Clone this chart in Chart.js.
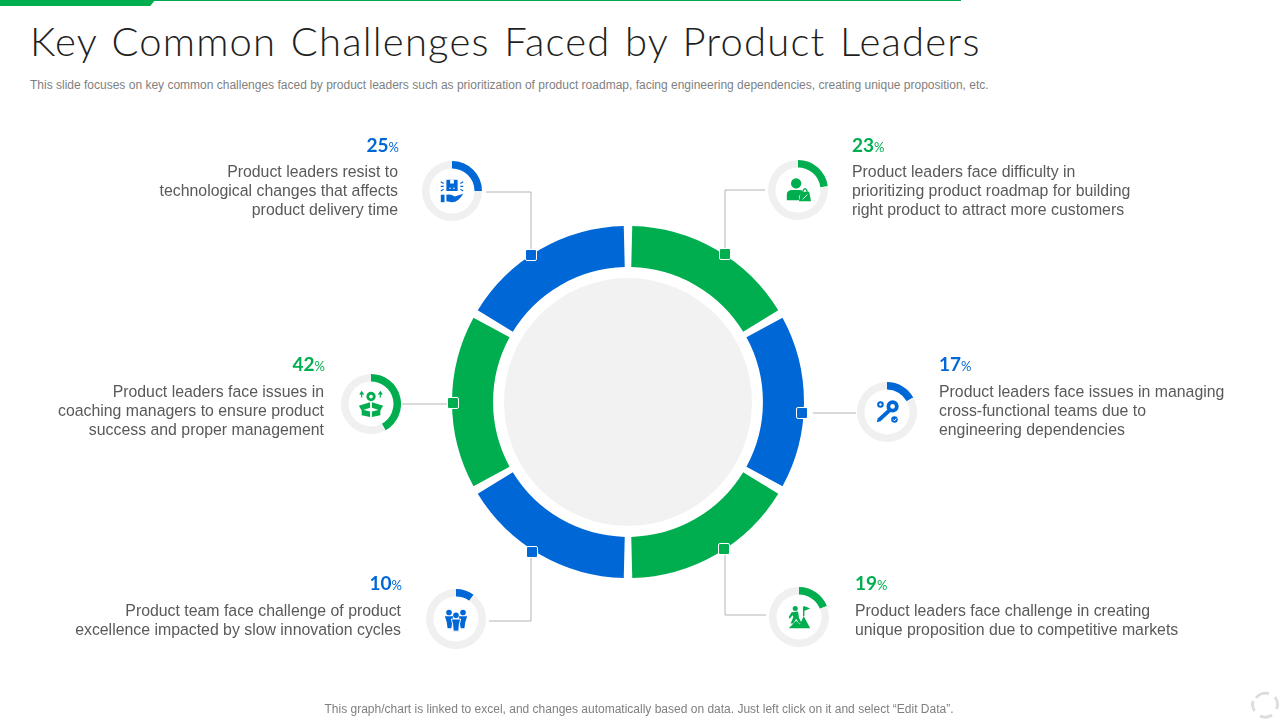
<!DOCTYPE html>
<html>
<head>
  <title>Key Common Challenges Faced by Product Leaders</title>
  <script src="https://cdn.jsdelivr.net/npm/chart.js"></script>
  <style>
    html, body { margin: 0; padding: 0; background: #fff; }
    body { position: relative; width: 1280px; height: 720px; overflow: hidden; font-family: "Liberation Sans", sans-serif; }
    canvas, svg, .abs { position: absolute; }
    #barTop { left: 0; top: 0; width: 961px; height: 1px; background: #00a651; }
    #barThick { left: 0; top: 0; width: 155px; height: 6px; background: #00ae4f; clip-path: polygon(0 0, 100% 0, 97% 100%, 0 100%); }
    h1 { position: absolute; left: 30px; top: 18px; margin: 0; font: 300 40px/46px Lato, sans-serif; color: #1f1f1f; letter-spacing: 1.2px; word-spacing: 2.4px; white-space: nowrap; }
    #sub { left: 30px; top: 78px; font-size: 12px; line-height: 14px; color: #7f7f7f; white-space: nowrap; }
    #foot { left: 0; width: 1278px; top: 702px; text-align: center; font-size: 12px; line-height: 14px; color: #7f7f7f; }
    #hole { left: 504px; top: 278px; width: 248px; height: 248px; border-radius: 50%; background: #f2f2f2; }
    .pct { font: 700 19px/22px Lato, sans-serif; white-space: nowrap; }
    .pct small { font-size: 13px; font-weight: 400; }
    .txt { font-size: 15.85px; line-height: 19px; color: #595959; white-space: nowrap; }
    .marker { width: 10px; height: 10px; border: 1px solid #fff; border-radius: 2px; }
  </style>
</head>
<body>
  <div class="abs" id="barTop"></div>
  <div class="abs" id="barThick"></div>
  <h1>Key Common Challenges Faced by Product Leaders</h1>
  <div class="abs" id="sub">This slide focuses on key common challenges faced by product leaders such as prioritization of product roadmap, facing engineering dependencies, creating unique proposition, etc.</div>
  <div class="abs" id="hole"></div>
  <canvas id="ring" width="352" height="352" style="left:452px;top:226px"></canvas>
  <svg id="links" width="1280" height="720" style="left:0;top:0"></svg>
  <div class="abs" id="foot">This graph/chart is linked to excel, and changes automatically based on data. Just left click on it and select “Edit Data”.</div>
  <svg width="30" height="30" style="left:1250px;top:690px" viewBox="0 0 30 30" fill="none" stroke="#dcdcdc" stroke-width="2.8">
    <path d="M6 8 A12 12 0 0 1 19 3.600"/><path d="M25 7 A12 12 0 0 1 26.500 19"/><path d="M22 25 A12 12 0 0 1 10 26"/><path d="M4.500 21 A12 12 0 0 1 3 11"/>
  </svg>

  <script>
    // clockwise from the top of the big ring
    const challengeValues = [23, 17, 19, 10, 42, 25];
    const ringShares = [1, 1, 1, 1, 1, 1];
    const challengeLines = [
      ['Product leaders face difficulty in', 'prioritizing product roadmap for building', 'right product to attract more customers'],
      ['Product leaders face issues in managing', 'cross-functional teams due to', 'engineering dependencies'],
      ['Product leaders face challenge in creating', 'unique proposition due to competitive markets'],
      ['Product team face challenge of product', 'excellence impacted by slow innovation cycles'],
      ['Product leaders face issues in', 'coaching managers to ensure product', 'success and proper management'],
      ['Product leaders resist to', 'technological changes that affects', 'product delivery time']
    ];

    const GREEN = '#00ae4f';
    const BLUE = '#0068d6';
    const GREY = '#f0f0f0';
    const colors = [GREEN, BLUE, GREEN, BLUE, GREEN, BLUE];

    // page layout: mini ring centre, text anchor, leader line, marker
    const layout = [
      { cx: 798, cy: 190, side: 'left', x: 852, pctY: 134, txtY: 162, line: '765,190 725,190 725,254', mark: [725, 254] },
      { cx: 887, cy: 412, side: 'left', x: 939, pctY: 353, txtY: 382, line: '813,413 856,413', mark: [802, 413] },
      { cx: 799, cy: 617, side: 'left', x: 855, pctY: 572, txtY: 601, line: '725,549 725,615 766,615', mark: [724, 549] },
      { cx: 456, cy: 619, side: 'right', x: 401, pctY: 572, txtY: 601, line: '489,621 531,621 531,552', mark: [532, 552] },
      { cx: 371, cy: 404, side: 'right', x: 324, pctY: 353, txtY: 382, line: '402,404 453,404', mark: [453, 403] },
      { cx: 452, cy: 191, side: 'right', x: 398, pctY: 134, txtY: 162, line: '486,192 531,192 531,255', mark: [531, 255] }
    ];

    const icons = [
      // person with shopping bag
      '<circle cx="13" cy="8" r="5.500"/><path d="M3 26 L3 20 Q3 15 9 15 L17 15 Q19 15 20 16 L16 22 L16 26Z"/><path d="M16 27 L18 17 L27 17 L29 27Z"/><path d="M20 17 Q22.500 10 25 17" fill="none" stroke-width="1.500"/><path d="M20 25 L25 20" stroke="#fff" stroke-width="1"/>',
      // gear, pencil, check
      '<circle cx="21" cy="9" r="6.500"/><circle cx="21" cy="9" r="2.500" fill="#fff"/><circle cx="8" cy="7" r="3.500"/><circle cx="8" cy="7" r="1.300" fill="#fff"/><path d="M4 26 L5 22 L17 11 L20 14 L8 25Z"/><circle cx="23" cy="23" r="3.500"/><path d="M21.500 23 L23 24.500 L25 22" fill="none" stroke="#fff" stroke-width="1"/>',
      // climber on a hill
      '<circle cx="11" cy="6" r="2.700"/><path d="M7 10 L14 9 L15 16 L18 22 L15 22 L12 17 L9 22 L6 22 L9 15 L8 13 L5 17 L4 15Z"/><path d="M20 4 L20 14 M20 4 L25 6 L20 8" fill-opacity="1" stroke-width="1.500"/><path d="M4 27 L12 19 L16 23 L20 14 L27 27Z"/>',
      // three people
      '<circle cx="7.500" cy="8" r="3"/><circle cx="22.500" cy="8" r="3"/><circle cx="15" cy="11" r="3"/><path d="M3 12 L12 12 L11 18 L10 25 L6 25 L5 18Z"/><path d="M18 12 L27 12 L25 18 L24 25 L20 25 L19 18Z"/><path d="M10 15 L20 15 L18.500 21 L18 28 L12 28 L11.500 21Z" stroke="#fff" stroke-width="1"/>',
      // open box with gear and arrows
      '<circle cx="15" cy="7" r="5"/><circle cx="15" cy="7" r="2" fill="#fff"/><path d="M5 8 V3 M3 5 L5 2 L7 5 M25 8 V3 M23 5 L25 2 L27 5" fill="none" stroke-width="1.300"/><path d="M2 17 L14 13 L14 19 L5 22Z"/><path d="M28 17 L16 13 L16 19 L25 22Z"/><path d="M5 21 L14 23 L14 29 L5 27Z"/><path d="M25 21 L16 23 L16 29 L25 27Z"/>',
      // parcel above an open hand
      '<path d="M9 3 L21 3 L21 15 L9 15Z"/><path d="M13 3 H17 V7 H13Z" fill="#fff"/><path d="M12 12 H14 M16 12 H18" stroke="#fff" stroke-width="1"/><path d="M3 5 L6 7 M3 10 H6 M3 15 L6 13 M27 5 L24 7 M27 10 H24 M27 15 L24 13" stroke-width="1.200"/><path d="M3 19 H7 V27 H3Z"/><path d="M9 19 Q14 18 18 21 L27 18 Q22 27 15 27 L9 26Z"/>'
    ];

    new Chart(document.getElementById('ring'), {
      type: 'doughnut',
      data: {
        labels: challengeValues.map(v => v + '%'),
        datasets: [{ data: ringShares, backgroundColor: colors, borderWidth: 0, spacing: 14 }]
      },
      options: {
        responsive: false,
        animation: false,
        cutout: '75.700%',
        plugins: { legend: { display: false }, tooltip: { enabled: false } }
      }
    });

    const links = document.getElementById('links');
    challengeValues.forEach((val, i) => {
      const pos = layout[i];

      const canvas = document.createElement('canvas');
      canvas.width = 60;
      canvas.height = 60;
      canvas.style.left = (pos.cx - 30) + 'px';
      canvas.style.top = (pos.cy - 30) + 'px';
      document.body.appendChild(canvas);
      new Chart(canvas, {
        type: 'doughnut',
        data: {
          labels: ['share', 'rest'],
          datasets: [{ data: [val, 100 - val], backgroundColor: [colors[i], GREY], borderWidth: 0 }]
        },
        options: {
          responsive: false,
          animation: false,
          cutout: '75%',
          plugins: { legend: { display: false }, tooltip: { enabled: false } }
        }
      });

      const icon = document.createElementNS('http://www.w3.org/2000/svg', 'svg');
      icon.setAttribute('width', 28);
      icon.setAttribute('height', 28);
      icon.setAttribute('viewBox', '0 0 30 30');
      icon.setAttribute('fill', colors[i]);
      icon.setAttribute('stroke', colors[i]);
      icon.setAttribute('stroke-width', 0);
      icon.style.left = (pos.cx - 14) + 'px';
      icon.style.top = (pos.cy - 14) + 'px';
      icon.innerHTML = icons[i];
      document.body.appendChild(icon);

      const line = document.createElementNS('http://www.w3.org/2000/svg', 'polyline');
      line.setAttribute('points', pos.line);
      line.setAttribute('fill', 'none');
      line.setAttribute('stroke', '#b4b4b4');
      line.setAttribute('stroke-width', 1);
      links.appendChild(line);

      const mark = document.createElement('div');
      mark.className = 'abs marker';
      mark.style.left = (pos.mark[0] - 6) + 'px';
      mark.style.top = (pos.mark[1] - 6) + 'px';
      mark.style.background = colors[i];
      document.body.appendChild(mark);

      const pct = document.createElement('div');
      pct.className = 'abs pct';
      pct.style.top = pos.pctY + 'px';
      pct.style.color = colors[i];
      pct.innerHTML = val + '<small>%</small>';

      const txt = document.createElement('div');
      txt.className = 'abs txt';
      txt.style.top = pos.txtY + 'px';
      txt.innerHTML = challengeLines[i].join('<br>');

      if (pos.side === 'left') {
        pct.style.left = pos.x + 'px';
        txt.style.left = pos.x + 'px';
      } else {
        pct.style.right = (1280 - pos.x - 1) + 'px';
        txt.style.right = (1280 - pos.x) + 'px';
        txt.style.textAlign = 'right';
      }
      document.body.appendChild(pct);
      document.body.appendChild(txt);
    });
  </script>
</body>
</html>
